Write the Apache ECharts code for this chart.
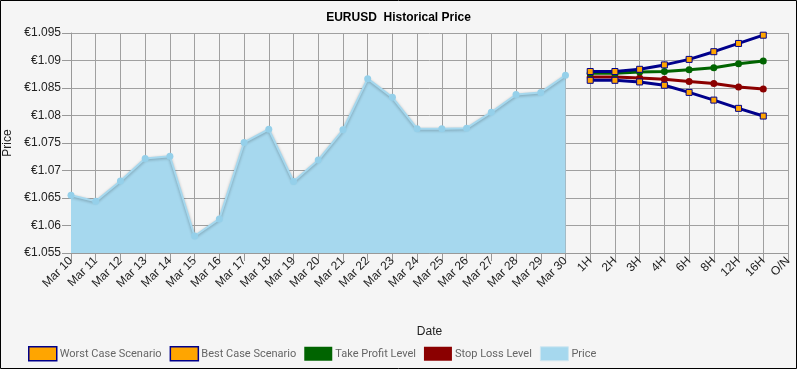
<!DOCTYPE html>
<html>
<head>
<meta charset="utf-8">
<script src="https://cdn.jsdelivr.net/npm/echarts@6/dist/echarts.min.js"></script>
<style>
html,body{margin:0;padding:0;background:#f5f5f5;}
#chart{width:797px;height:369px;}
</style>
</head>
<body>
<div id="chart"></div>
<script>
var categories = ['Mar 10','Mar 11','Mar 12','Mar 13','Mar 14','Mar 15','Mar 16','Mar 17','Mar 18','Mar 19','Mar 20','Mar 21','Mar 22','Mar 23','Mar 24','Mar 25','Mar 26','Mar 27','Mar 28','Mar 29','Mar 30','1H','2H','3H','4H','6H','8H','12H','16H','O/N'];
var priceValues = [1.0655,1.0644,1.0681,1.0722,1.0726,1.0581,1.0612,1.0751,1.0775,1.0680,1.0719,1.0774,1.0867,1.0833,1.0776,1.0776,1.0777,1.0806,1.0838,1.0842,1.0873];
var worstValues = [1.0864,1.0864,1.0861,1.0855,1.0842,1.0828,1.0813,1.0799];
var bestValues = [1.0880,1.0880,1.0884,1.0892,1.0902,1.0916,1.0931,1.0946];
var takeProfitValues = [1.0877,1.0877,1.0879,1.0880,1.0883,1.0887,1.0894,1.0899];
var stopLossValues = [1.0870,1.0870,1.0868,1.0866,1.0862,1.0858,1.0852,1.0848];
var yTicks = {min:1.055, max:1.095, interval:0.005};

function pad(arr, before, total){
  var out = [];
  for (var i=0;i<before;i++) out.push(null);
  for (var j=0;j<arr.length;j++) out.push(arr[j]);
  while (out.length<total) out.push(null);
  return out;
}
var N = categories.length;
var nPrice = priceValues.length;

var chart = echarts.init(document.getElementById('chart'), null, {renderer:'canvas'});
var option = {
  backgroundColor:'#f5f5f5',
  animation:false,
  title:{text:'EURUSD  Historical Price', left:'center', top:7,
    textStyle:{fontSize:12, fontWeight:'bold', color:'#000', fontFamily:'Arial, Liberation Sans, sans-serif'}},
  grid:{left:71, right:9, top:33, bottom:116, containLabel:false, outerBoundsMode:'none'},
  legend:{left:28, top:346, padding:0, itemWidth:28, itemHeight:14, itemGap:8, icon:'rect', selectedMode:false,
    textStyle:{color:'#666', fontSize:11, fontFamily:'Roboto, Arial, sans-serif', padding:[0,0,0,-2]},
    data:[
      {name:'Worst Case Scenario', itemStyle:{color:'#FFA500', borderColor:'#00008B', borderWidth:1.5}},
      {name:'Best Case Scenario', itemStyle:{color:'#FFA500', borderColor:'#00008B', borderWidth:1.5}},
      {name:'Take Profit Level', itemStyle:{color:'#006400', borderColor:'#006400', borderWidth:0}},
      {name:'Stop Loss Level', itemStyle:{color:'#8B0000', borderColor:'#8B0000', borderWidth:0}},
      {name:'Price', itemStyle:{color:'#A6D8EE', borderColor:'#cfe6f0', borderWidth:1}}
    ]},
  xAxis:{type:'category', data:categories, boundaryGap:false,
    name:'Date', nameLocation:'middle', nameGap:73,
    nameTextStyle:{color:'#222', fontSize:12, fontFamily:'Arial, Liberation Sans, sans-serif'},
    axisLine:{lineStyle:{color:'#999', width:1}},
    axisTick:{show:true, length:8, alignWithLabel:true, lineStyle:{color:'#999'}},
    axisLabel:{rotate:45, color:'#222', fontSize:12, margin:6, interval:0, fontFamily:'Arial, Liberation Sans, sans-serif'},
    splitLine:{show:true, lineStyle:{color:'#a0a0a0', width:1}}
  },
  yAxis:{type:'value', min:yTicks.min, max:yTicks.max, interval:yTicks.interval,
    name:'Price', nameLocation:'middle', nameGap:56,
    nameTextStyle:{color:'#222', fontSize:12, fontFamily:'Arial, Liberation Sans, sans-serif'},
    axisLine:{show:true, lineStyle:{color:'#999'}},
    axisTick:{show:true, length:9, lineStyle:{color:'#999'}},
    axisLabel:{color:'#222', fontSize:12, margin:10, fontFamily:'Arial, Liberation Sans, sans-serif',
      formatter:function(v){ return '€' + parseFloat(v.toFixed(3)); }},
    splitLine:{show:true, lineStyle:{color:'#a0a0a0', width:1}}
  },
  series:[
    {name:'Price', type:'line', data:pad(priceValues,0,N), symbol:'circle', symbolSize:7,
      itemStyle:{color:'#95d0ea'},
      lineStyle:{color:'#A6D8EE', width:2, shadowColor:'rgba(0,0,0,0.3)', shadowBlur:3, shadowOffsetY:1},
      areaStyle:{color:'#A6D8EE', opacity:1}, z:2},
    {name:'Stop Loss Level', type:'line', data:pad(stopLossValues,nPrice,N), symbol:'circle', symbolSize:7,
      itemStyle:{color:'#8B0000'}, lineStyle:{color:'#8B0000', width:3}, z:3},
    {name:'Take Profit Level', type:'line', data:pad(takeProfitValues,nPrice,N), symbol:'circle', symbolSize:7,
      itemStyle:{color:'#006400'}, lineStyle:{color:'#006400', width:3}, z:3},
    {name:'Worst Case Scenario', type:'line', data:pad(worstValues,nPrice,N), symbol:'rect', symbolSize:6,
      itemStyle:{color:'#FFA500', borderColor:'#00008B', borderWidth:1}, lineStyle:{color:'#00008B', width:3}, z:4},
    {name:'Best Case Scenario', type:'line', data:pad(bestValues,nPrice,N), symbol:'rect', symbolSize:6,
      itemStyle:{color:'#FFA500', borderColor:'#00008B', borderWidth:1}, lineStyle:{color:'#00008B', width:3}, z:4}
  ],
  graphic:[{type:'rect', shape:{x:0.5, y:0.5, width:796, height:368}, style:{fill:'none', stroke:'#000', lineWidth:1}, z:100}]
};
chart.setOption(option);
</script>
</body>
</html>
